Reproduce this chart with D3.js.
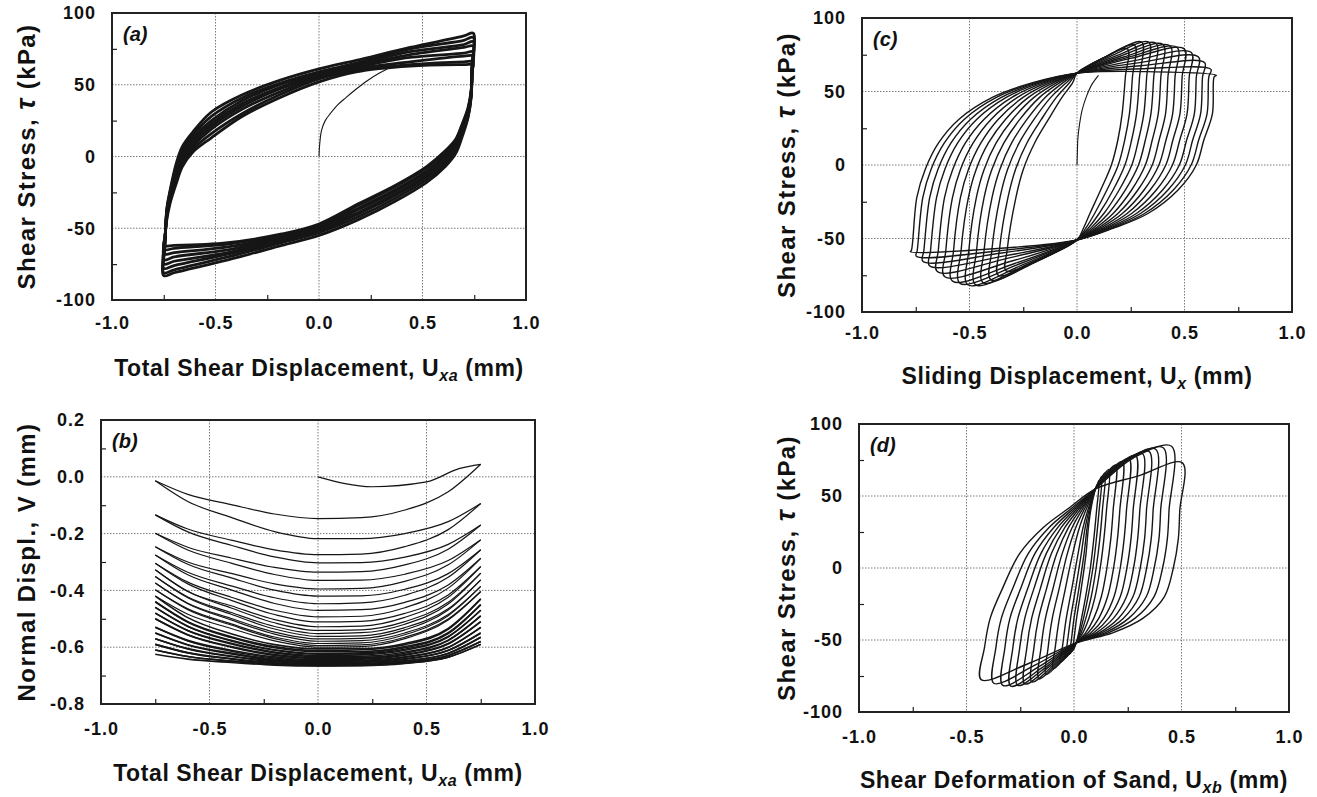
<!DOCTYPE html>
<html>
<head>
<meta charset="utf-8">
<script src="https://cdn.jsdelivr.net/npm/d3@7"></script>
<style>
  html, body { margin: 0; padding: 0; background: #fff; }
  svg { display: block; }
</style>
</head>
<body>
<svg id="chart" width="1317" height="797"></svg>
<script>
// ---------------------------------------------------------------------------
// Axis ticks (shared x axis for all four panels)
// ---------------------------------------------------------------------------
const X_DOMAIN = [-1, 1];
const X_TICKS  = [-1, -0.5, 0, 0.5, 1];
const X_MINOR  = [-0.75, -0.25, 0.25, 0.75];

const TAU_TICKS = [-100, -50, 0, 50, 100];
const TAU_MINOR = [-75, -25, 25, 75];
const V_TICKS   = [-0.8, -0.6, -0.4, -0.2, 0, 0.2];
const V_MINOR   = [-0.7, -0.5, -0.3, -0.1, 0.1];

// ---------------------------------------------------------------------------
// (a) total shear displacement vs shear stress
// ---------------------------------------------------------------------------
const A_INIT_X = [0, 0.003, 0.012, 0.03, 0.055, 0.09, 0.13, 0.18, 0.235, 0.29, 0.33];
const A_INIT_Y = [0, 8, 18, 25, 30, 36, 41, 47, 53, 58, 61];

// loading branch, read at these displacements
const A_UP_X = [-0.75, -0.745, -0.735, -0.72, -0.69, -0.66, -0.61, -0.52, -0.37, -0.19, 0.0, 0.18, 0.44, 0.70, 0.745];
const A_UP = [
    [-62, -57, -44, -33, -19, -7, 3, 13, 28, 41, 52, 59, 63, 64, 64],
    [-65, -58, -42, -31, -17, -5, 5, 16, 30, 43, 54, 60, 64, 66, 66],
    [-68, -59, -41, -29, -15, -3, 7, 19, 33, 45, 55, 61, 66, 70, 70],
    [-72, -60, -40, -28, -13, -1, 9, 21, 35, 47, 56, 62, 69, 72, 73],
    [-75, -61, -39, -27, -11, 1, 11, 23, 37, 48, 57, 63, 71, 76, 77],
    [-78, -62, -38, -26, -9, 3, 13, 25, 39, 50, 58, 64, 73, 78, 80],
    [-81, -63, -37, -25, -7, 5, 15, 28, 41, 51, 59, 65, 75, 81, 83],
    [-83, -64, -36, -24, -5, 7, 17, 31, 43, 53, 61, 67, 76, 84, 86]
];

// unloading branch, read at these displacements
const A_DN_X = [0.74, 0.735, 0.72, 0.69, 0.66, 0.61, 0.52, 0.37, 0.19, 0.0, -0.18, -0.44, -0.70];
const A_DN = [
    [60, 46, 34, 22, 12, 4, -7, -20, -33, -47, -54, -60, -62],
    [61, 45, 33, 21, 11, 3, -8, -21, -34, -48, -55, -61, -64],
    [62, 45, 32, 20, 10, 1, -10, -23, -36, -49, -56, -63, -67],
    [62, 44, 31, 19, 9, 0, -11, -24, -37, -50, -57, -65, -70],
    [63, 44, 30, 17, 7, -2, -13, -26, -39, -51, -58, -67, -73],
    [63, 43, 29, 16, 6, -3, -14, -27, -40, -52, -59, -68, -76],
    [64, 42, 28, 15, 4, -5, -16, -29, -42, -53, -60, -70, -79],
    [64, 41, 27, 13, 2, -7, -18, -31, -44, -55, -62, -72, -81]
];

// ---------------------------------------------------------------------------
// (b) normal displacement, one row per half cycle
// ---------------------------------------------------------------------------
const B_INIT_X = [0, 0.25, 0.5, 0.65, 0.75];
const B_INIT_V = [0, -0.035, -0.018, 0.029, 0.044];

const B_X = [-0.75, -0.6, -0.4, -0.2, 0, 0.2, 0.4, 0.6, 0.75];
const B_V = [
    [-0.014, -0.062, -0.098, -0.131, -0.147, -0.144, -0.117, -0.053, 0.044],
    [-0.014, -0.087, -0.143, -0.193, -0.218, -0.218, -0.2, -0.158, -0.094],
    [-0.134, -0.184, -0.223, -0.257, -0.274, -0.272, -0.246, -0.186, -0.094],
    [-0.134, -0.194, -0.241, -0.282, -0.303, -0.302, -0.283, -0.238, -0.17],
    [-0.199, -0.248, -0.286, -0.319, -0.336, -0.334, -0.31, -0.255, -0.17],
    [-0.199, -0.258, -0.304, -0.344, -0.365, -0.364, -0.343, -0.295, -0.222],
    [-0.246, -0.3, -0.34, -0.377, -0.395, -0.393, -0.368, -0.31, -0.222],
    [-0.246, -0.308, -0.356, -0.399, -0.42, -0.419, -0.396, -0.341, -0.257],
    [-0.275, -0.336, -0.384, -0.426, -0.447, -0.444, -0.417, -0.354, -0.257],
    [-0.275, -0.345, -0.398, -0.446, -0.47, -0.468, -0.442, -0.381, -0.287],
    [-0.304, -0.371, -0.424, -0.47, -0.493, -0.491, -0.461, -0.392, -0.287],
    [-0.304, -0.377, -0.435, -0.485, -0.511, -0.509, -0.481, -0.416, -0.316],
    [-0.327, -0.404, -0.454, -0.503, -0.528, -0.526, -0.495, -0.424, -0.316],
    [-0.327, -0.403, -0.462, -0.514, -0.541, -0.539, -0.51, -0.442, -0.339],
    [-0.351, -0.423, -0.478, -0.527, -0.552, -0.549, -0.519, -0.448, -0.339],
    [-0.351, -0.426, -0.484, -0.536, -0.562, -0.56, -0.531, -0.465, -0.363],
    [-0.374, -0.445, -0.499, -0.547, -0.571, -0.569, -0.539, -0.469, -0.363],
    [-0.374, -0.447, -0.504, -0.554, -0.579, -0.577, -0.55, -0.485, -0.386],
    [-0.398, -0.465, -0.518, -0.564, -0.587, -0.585, -0.556, -0.489, -0.386],
    [-0.398, -0.468, -0.522, -0.57, -0.594, -0.592, -0.565, -0.501, -0.404],
    [-0.42, -0.484, -0.534, -0.578, -0.6, -0.598, -0.57, -0.504, -0.404],
    [-0.42, -0.496, -0.553, -0.591, -0.606, -0.605, -0.587, -0.534, -0.43],
    [-0.44, -0.51, -0.563, -0.598, -0.612, -0.609, -0.591, -0.537, -0.43],
    [-0.44, -0.512, -0.566, -0.602, -0.616, -0.615, -0.598, -0.549, -0.45],
    [-0.46, -0.526, -0.576, -0.609, -0.622, -0.62, -0.602, -0.552, -0.45],
    [-0.46, -0.527, -0.578, -0.611, -0.625, -0.623, -0.607, -0.562, -0.47],
    [-0.48, -0.541, -0.586, -0.617, -0.629, -0.627, -0.611, -0.564, -0.47],
    [-0.48, -0.542, -0.589, -0.62, -0.633, -0.632, -0.617, -0.575, -0.49],
    [-0.5, -0.556, -0.598, -0.626, -0.637, -0.636, -0.621, -0.577, -0.49],
    [-0.5, -0.557, -0.6, -0.629, -0.64, -0.639, -0.626, -0.587, -0.51],
    [-0.53, -0.576, -0.611, -0.634, -0.644, -0.642, -0.628, -0.589, -0.51],
    [-0.53, -0.578, -0.614, -0.638, -0.648, -0.646, -0.634, -0.6, -0.53],
    [-0.55, -0.591, -0.621, -0.642, -0.65, -0.648, -0.636, -0.601, -0.53],
    [-0.55, -0.592, -0.624, -0.645, -0.653, -0.652, -0.641, -0.611, -0.55],
    [-0.57, -0.605, -0.631, -0.648, -0.655, -0.654, -0.643, -0.612, -0.55],
    [-0.57, -0.606, -0.633, -0.651, -0.658, -0.657, -0.648, -0.622, -0.565],
    [-0.59, -0.619, -0.64, -0.655, -0.66, -0.659, -0.649, -0.621, -0.565],
    [-0.59, -0.62, -0.642, -0.657, -0.662, -0.661, -0.653, -0.629, -0.58],
    [-0.61, -0.633, -0.649, -0.66, -0.664, -0.662, -0.654, -0.629, -0.58],
    [-0.61, -0.633, -0.649, -0.66, -0.665, -0.664, -0.656, -0.635, -0.59],
    [-0.625, -0.642, -0.654, -0.663, -0.666, -0.665, -0.657, -0.635, -0.59]
];

// ---------------------------------------------------------------------------
// (c) sliding displacement, one row per cycle (inner to outer)
// ---------------------------------------------------------------------------
const C_INIT_X = [0, 0.002, 0.004, 0.012, 0.025, 0.045, 0.07, 0.1];
const C_INIT_Y = [0, 10, 18, 28, 38, 47, 55, 61];

const C_TOP_CROSS = [0.0, 62.5];
const C_BOT_CROSS = [0.0, -51];

const C_LEFT_TAU = [-58, -22, -3, 15, 31, 46, 56];
const C_LEFT_X = [
    [-0.325, -0.284, -0.25, -0.197, -0.133, -0.07, -0.02],
    [-0.361, -0.321, -0.286, -0.233, -0.166, -0.096, -0.035],
    [-0.396, -0.358, -0.323, -0.269, -0.2, -0.122, -0.05],
    [-0.432, -0.395, -0.359, -0.304, -0.233, -0.148, -0.065],
    [-0.467, -0.432, -0.396, -0.34, -0.266, -0.174, -0.08],
    [-0.503, -0.468, -0.432, -0.376, -0.3, -0.2, -0.094],
    [-0.539, -0.505, -0.469, -0.412, -0.333, -0.226, -0.109],
    [-0.574, -0.542, -0.505, -0.447, -0.367, -0.251, -0.124],
    [-0.61, -0.579, -0.542, -0.483, -0.4, -0.277, -0.139],
    [-0.645, -0.616, -0.578, -0.519, -0.433, -0.303, -0.154],
    [-0.681, -0.653, -0.615, -0.555, -0.467, -0.329, -0.169],
    [-0.712, -0.685, -0.647, -0.586, -0.496, -0.352, -0.182],
    [-0.743, -0.717, -0.679, -0.617, -0.525, -0.375, -0.195],
    [-0.77, -0.745, -0.706, -0.644, -0.55, -0.394, -0.206]
];
const C_TROUGHS = [
    [-0.33, -72], [-0.366, -75], [-0.401, -78], [-0.437, -80], [-0.472, -81.5],
    [-0.508, -81.5], [-0.544, -80.5], [-0.579, -79], [-0.615, -76], [-0.65, -72.5],
    [-0.686, -68.5], [-0.717, -65.5], [-0.748, -62], [-0.775, -59]
];
const C_BOT_MID = [
    [-0.165, -63.5], [-0.183, -65], [-0.2, -66.5], [-0.218, -67.5], [-0.236, -68],
    [-0.254, -68], [-0.272, -67.5], [-0.29, -67], [-0.307, -65.5], [-0.325, -63.5],
    [-0.343, -62], [-0.358, -60], [-0.374, -58.5], [-0.388, -57]
];

const C_RIGHT_TAU = [60, 35, 17, 0, -17, -33, -43];
const C_RIGHT_X = [
    [0.225, 0.21, 0.19, 0.16, 0.11, 0.06, 0.03],
    [0.258, 0.244, 0.222, 0.192, 0.139, 0.082, 0.041],
    [0.291, 0.277, 0.254, 0.223, 0.168, 0.103, 0.052],
    [0.324, 0.311, 0.286, 0.255, 0.196, 0.125, 0.064],
    [0.357, 0.344, 0.318, 0.286, 0.225, 0.146, 0.075],
    [0.39, 0.378, 0.35, 0.318, 0.254, 0.168, 0.086],
    [0.423, 0.412, 0.382, 0.35, 0.283, 0.19, 0.097],
    [0.456, 0.445, 0.414, 0.381, 0.312, 0.211, 0.108],
    [0.489, 0.479, 0.446, 0.413, 0.34, 0.233, 0.12],
    [0.522, 0.512, 0.478, 0.444, 0.369, 0.254, 0.131],
    [0.555, 0.546, 0.51, 0.476, 0.398, 0.276, 0.142],
    [0.584, 0.575, 0.538, 0.504, 0.423, 0.295, 0.152],
    [0.613, 0.605, 0.566, 0.531, 0.448, 0.314, 0.162],
    [0.638, 0.63, 0.59, 0.555, 0.47, 0.33, 0.17]
];
const C_PEAKS = [
    [0.235, 79], [0.268, 81.5], [0.301, 83.5], [0.334, 83.5], [0.367, 82.8],
    [0.4, 82], [0.433, 81], [0.466, 80], [0.499, 79], [0.532, 76.5],
    [0.565, 73.5], [0.594, 69.5], [0.623, 65], [0.648, 61]
];
const C_TOP_MID = [
    [0.118, 72.5], [0.134, 73.8], [0.15, 74.8], [0.167, 74.8], [0.184, 74.4],
    [0.2, 74], [0.217, 73.5], [0.233, 73], [0.25, 72.5], [0.266, 71],
    [0.283, 69.5], [0.297, 67.5], [0.312, 65.5], [0.324, 63.5]
];

// ---------------------------------------------------------------------------
// (d) shear deformation of sand, one row per cycle (inner to outer)
// ---------------------------------------------------------------------------
const D_TOP_CROSS = [0.10, 55];
const D_BOT_CROSS = [0.01, -52];

const D_LEFT_TAU = [-55, -35, -15, 10, 28, 42];
const D_LEFT_X = [
    [-0.005, 0.012, 0.033, 0.056, 0.067, 0.08],
    [-0.017, 0.0, 0.022, 0.047, 0.061, 0.077],
    [-0.034, -0.016, 0.007, 0.034, 0.052, 0.073],
    [-0.054, -0.036, -0.011, 0.019, 0.042, 0.068],
    [-0.087, -0.068, -0.041, -0.006, 0.025, 0.06],
    [-0.12, -0.101, -0.07, -0.031, 0.008, 0.052],
    [-0.153, -0.133, -0.099, -0.055, -0.009, 0.044],
    [-0.186, -0.165, -0.129, -0.08, -0.026, 0.036],
    [-0.219, -0.197, -0.158, -0.105, -0.043, 0.028],
    [-0.252, -0.229, -0.188, -0.129, -0.06, 0.02],
    [-0.284, -0.261, -0.217, -0.154, -0.076, 0.012],
    [-0.321, -0.298, -0.25, -0.182, -0.095, 0.003],
    [-0.363, -0.338, -0.287, -0.213, -0.117, -0.007],
    [-0.416, -0.39, -0.335, -0.253, -0.144, -0.02]
];
const D_TROUGHS = [
    [-0.01, -58], [-0.025, -60], [-0.043, -62.5], [-0.064, -65.5], [-0.097, -70],
    [-0.13, -74], [-0.163, -77], [-0.196, -79], [-0.229, -80.5], [-0.262, -81.5],
    [-0.294, -82], [-0.331, -81.5], [-0.373, -80], [-0.432, -77.5]
];
const D_BOT_MID = [
    [0.0, -56], [-0.008, -57.5], [-0.017, -58.8], [-0.027, -60.3], [-0.044, -62.5],
    [-0.06, -64.5], [-0.077, -66], [-0.093, -67], [-0.11, -67.8], [-0.126, -68.3],
    [-0.142, -68.5], [-0.161, -68.3], [-0.182, -67.5], [-0.211, -66.3]
];

const D_RIGHT_TAU = [40, 20, 0, -20, -35, -45];
const D_RIGHT_X = [
    [0.105, 0.092, 0.076, 0.054, 0.035, 0.022],
    [0.117, 0.104, 0.088, 0.065, 0.044, 0.027],
    [0.132, 0.12, 0.103, 0.08, 0.055, 0.033],
    [0.151, 0.139, 0.122, 0.098, 0.069, 0.041],
    [0.182, 0.171, 0.153, 0.127, 0.092, 0.054],
    [0.213, 0.202, 0.184, 0.156, 0.115, 0.066],
    [0.244, 0.233, 0.215, 0.186, 0.138, 0.079],
    [0.275, 0.265, 0.246, 0.215, 0.16, 0.092],
    [0.306, 0.296, 0.277, 0.244, 0.183, 0.104],
    [0.337, 0.328, 0.308, 0.274, 0.206, 0.117],
    [0.368, 0.359, 0.338, 0.303, 0.229, 0.129],
    [0.403, 0.395, 0.373, 0.336, 0.254, 0.144],
    [0.442, 0.434, 0.412, 0.372, 0.283, 0.159],
    [0.492, 0.485, 0.462, 0.42, 0.32, 0.18]
];
const D_PEAKS = [
    [0.117, 61], [0.129, 63.5], [0.144, 66], [0.163, 68.5], [0.194, 71.5],
    [0.225, 74], [0.256, 76], [0.287, 78], [0.318, 79.5], [0.349, 81],
    [0.38, 82.5], [0.415, 83.5], [0.454, 84.5], [0.504, 73]
];
const D_TOP_MID = [
    [0.108, 58], [0.114, 59.5], [0.122, 61], [0.131, 63], [0.147, 65],
    [0.162, 67], [0.178, 68.5], [0.193, 70], [0.209, 71.5], [0.224, 73],
    [0.24, 74.5], [0.258, 75.5], [0.277, 76.5], [0.3, 64]
];

// ---------------------------------------------------------------------------
// Drawing
// ---------------------------------------------------------------------------
const FONT = "'Liberation Sans', Arial, Helvetica, sans-serif";
const INK  = "#161616";
const GRID = "#7a7a7a";

const svg = d3.select("#chart")
    .attr("font-family", FONT);

const defs = svg.append("defs");

const openLine   = d3.line().curve(d3.curveCatmullRom.alpha(0.5));
const closedLine = d3.line().curve(d3.curveCatmullRomClosed.alpha(0.5));

/**
 * Returns the point list of one closed loop of panel (c) or (d).
 */
function cycleLoop(set, i)
{
    let pts = [set.troughs[i]];

    set.leftTau.forEach((t, j) => pts.push([set.leftX[i][j], t]));
    pts.push(set.topCross, set.topMid[i], set.peaks[i]);
    set.rightTau.forEach((t, j) => pts.push([set.rightX[i][j], t]));
    pts.push(set.botCross, set.botMid[i]);

    return pts;
}

/**
 * Draws one framed panel with grid, ticks, labels and its curves.
 */
function drawPanel(cfg)
{
    const x = d3.scaleLinear().domain(X_DOMAIN).range([cfg.left, cfg.right]);
    const y = d3.scaleLinear().domain(cfg.yDomain).range([cfg.bottom, cfg.top]);
    const g = svg.append("g").attr("class", "panel-" + cfg.name);

    // Dotted grid on the inner major ticks
    g.append("g")
        .selectAll("line")
        .data(X_TICKS.slice(1, -1))
        .join("line")
        .attr("x1", d => x(d)).attr("x2", d => x(d))
        .attr("y1", cfg.top).attr("y2", cfg.bottom)
        .attr("stroke", GRID).attr("stroke-width", 1).attr("stroke-dasharray", "1.5,1.5");

    g.append("g")
        .selectAll("line")
        .data(cfg.yTicks.slice(1, -1))
        .join("line")
        .attr("y1", d => y(d)).attr("y2", d => y(d))
        .attr("x1", cfg.left).attr("x2", cfg.right)
        .attr("stroke", GRID).attr("stroke-width", 1).attr("stroke-dasharray", "1.5,1.5");

    // Curves, clipped to the frame
    defs.append("clipPath")
        .attr("id", "clip-" + cfg.name)
        .append("rect")
        .attr("x", cfg.left).attr("y", cfg.top)
        .attr("width", cfg.right - cfg.left).attr("height", cfg.bottom - cfg.top);

    const plot = g.append("g")
        .attr("clip-path", "url(#clip-" + cfg.name + ")")
        .attr("fill", "none")
        .attr("stroke", INK)
        .attr("stroke-linejoin", "round");

    cfg.draw(plot, x, y);

    // Frame
    g.append("rect")
        .attr("x", cfg.left).attr("y", cfg.top)
        .attr("width", cfg.right - cfg.left).attr("height", cfg.bottom - cfg.top)
        .attr("fill", "none").attr("stroke", "#222").attr("stroke-width", 2);

    // Minor ticks, pointing inward
    g.append("g")
        .attr("transform", "translate(0," + cfg.bottom + ")")
        .call(d3.axisBottom(x).tickValues(X_MINOR).tickSize(-5).tickFormat(""))
        .call(a => a.select(".domain").remove())
        .call(a => a.selectAll("line").attr("stroke", "#222").attr("stroke-width", 1.2));

    g.append("g")
        .attr("transform", "translate(" + cfg.left + ",0)")
        .call(d3.axisLeft(y).tickValues(cfg.yMinor).tickSize(-5).tickFormat(""))
        .call(a => a.select(".domain").remove())
        .call(a => a.selectAll("line").attr("stroke", "#222").attr("stroke-width", 1.2));

    // Tick labels
    g.append("g")
        .attr("transform", "translate(0," + cfg.bottom + ")")
        .call(d3.axisBottom(x).tickValues(X_TICKS).tickSize(0).tickPadding(cfg.xPad)
            .tickFormat(d => d.toFixed(1)))
        .call(a => a.select(".domain").remove())
        .attr("font-family", FONT).attr("font-size", 18).attr("font-weight", "bold")
        .call(a => a.selectAll("text").attr("fill", "#111").attr("letter-spacing", 1));

    g.append("g")
        .attr("transform", "translate(" + cfg.left + ",0)")
        .call(d3.axisLeft(y).tickValues(cfg.yTicks).tickSize(0).tickPadding(16)
            .tickFormat(cfg.yFormat))
        .call(a => a.select(".domain").remove())
        .attr("font-family", FONT).attr("font-size", 18).attr("font-weight", "bold")
        .call(a => a.selectAll("text").attr("fill", "#111").attr("letter-spacing", 1));

    // Panel letter
    g.append("text")
        .attr("x", cfg.left + 11).attr("y", cfg.top + 28)
        .attr("font-size", 20).attr("font-weight", "bold").attr("font-style", "italic")
        .attr("fill", "#111")
        .text("(" + cfg.name + ")");

    // X axis title
    const xt = g.append("text")
        .attr("x", (cfg.left + cfg.right) / 2).attr("y", cfg.bottom + cfg.titlePad)
        .attr("text-anchor", "middle")
        .attr("font-size", 23).attr("font-weight", "bold").attr("fill", "#111")
        .attr("letter-spacing", 0.6);

    xt.append("tspan").text(cfg.xTitle[0]);
    xt.append("tspan").attr("font-size", 16).attr("font-style", "italic").attr("dy", 5).text(cfg.xTitle[1]);
    xt.append("tspan").attr("dy", -5).text(cfg.xTitle[2]);

    // Y axis title
    const yt = g.append("text")
        .attr("transform", "translate(" + cfg.yTitleX + "," + ((cfg.top + cfg.bottom) / 2) + ") rotate(-90)")
        .attr("text-anchor", "middle")
        .attr("font-size", 24).attr("font-weight", "bold").attr("fill", "#111")
        .attr("letter-spacing", 1.4);

    cfg.yTitle.forEach((part, i) => {
        let span = yt.append("tspan").text(part);

        if (i === 1) {
            span.attr("font-style", "italic").attr("font-size", 27);
        }
    });
}

const tauFormat = d => String(d);
const vFormat   = d => d.toFixed(1);

// (a)
drawPanel({
    name: "a", left: 112, right: 526, top: 13, bottom: 300,
    yDomain: [-100, 100], yTicks: TAU_TICKS, yMinor: TAU_MINOR, yFormat: tauFormat,
    xPad: 16, titlePad: 76, yTitleX: 35,
    xTitle: ["Total Shear Displacement, U", "xa", " (mm)"],
    yTitle: ["Shear Stress, ", "\u03C4", " (kPa)"],
    draw: (plot, x, y) => {
        openLine.x(d => x(d[0])).y(d => y(d[1]));
        closedLine.x(d => x(d[0])).y(d => y(d[1]));

        plot.selectAll("path.loop")
            .data(A_UP.map((up, i) =>
                A_UP_X.map((u, j) => [u, up[j]])
                    .concat(A_DN_X.map((u, j) => [u, A_DN[i][j]]))))
            .join("path")
            .attr("class", "loop")
            .attr("stroke-width", 2.8)
            .attr("d", closedLine);

        plot.append("path")
            .attr("stroke-width", 1.1)
            .attr("d", openLine(A_INIT_X.map((u, j) => [u, A_INIT_Y[j]])));
    }
});

// (b)
drawPanel({
    name: "b", left: 101, right: 535, top: 420, bottom: 704,
    yDomain: [-0.8, 0.2], yTicks: V_TICKS, yMinor: V_MINOR, yFormat: vFormat,
    xPad: 18, titlePad: 77, yTitleX: 35,
    xTitle: ["Total Shear Displacement, U", "xa", " (mm)"],
    yTitle: ["Normal Displ., V (mm)"],
    draw: (plot, x, y) => {
        const line = d3.line().curve(d3.curveMonotoneX).x(d => x(d[0])).y(d => y(d[1]));

        plot.selectAll("path.half")
            .data(B_V.map(row => B_X.map((u, j) => [u, row[j]])))
            .join("path")
            .attr("class", "half")
            .attr("stroke-width", (d, i) => i > 20 ? 1.6 : 1.2)
            .attr("d", line);

        plot.append("path")
            .attr("stroke-width", 1.2)
            .attr("d", line(B_INIT_X.map((u, j) => [u, B_INIT_V[j]])));
    }
});

// (c)
const C_SET = {
    leftTau: C_LEFT_TAU, leftX: C_LEFT_X, troughs: C_TROUGHS, botMid: C_BOT_MID,
    rightTau: C_RIGHT_TAU, rightX: C_RIGHT_X, peaks: C_PEAKS, topMid: C_TOP_MID,
    topCross: C_TOP_CROSS, botCross: C_BOT_CROSS
};

drawPanel({
    name: "c", left: 862, right: 1292, top: 18, bottom: 312,
    yDomain: [-100, 100], yTicks: TAU_TICKS, yMinor: TAU_MINOR, yFormat: tauFormat,
    xPad: 14, titlePad: 72, yTitleX: 795,
    xTitle: ["Sliding Displacement, U", "x", " (mm)"],
    yTitle: ["Shear Stress, ", "\u03C4", " (kPa)"],
    draw: (plot, x, y) => {
        closedLine.x(d => x(d[0])).y(d => y(d[1]));
        openLine.x(d => x(d[0])).y(d => y(d[1]));

        plot.selectAll("path.loop")
            .data(C_LEFT_X.map((row, i) => cycleLoop(C_SET, i)))
            .join("path")
            .attr("class", "loop")
            .attr("stroke-width", 1.4)
            .attr("d", closedLine);

        plot.append("path")
            .attr("stroke-width", 1.1)
            .attr("d", openLine(C_INIT_X.map((u, j) => [u, C_INIT_Y[j]])));
    }
});

// (d)
const D_SET = {
    leftTau: D_LEFT_TAU, leftX: D_LEFT_X, troughs: D_TROUGHS, botMid: D_BOT_MID,
    rightTau: D_RIGHT_TAU, rightX: D_RIGHT_X, peaks: D_PEAKS, topMid: D_TOP_MID,
    topCross: D_TOP_CROSS, botCross: D_BOT_CROSS
};

drawPanel({
    name: "d", left: 859, right: 1289, top: 424, bottom: 712,
    yDomain: [-100, 100], yTicks: TAU_TICKS, yMinor: TAU_MINOR, yFormat: tauFormat,
    xPad: 18, titlePad: 76, yTitleX: 795,
    xTitle: ["Shear Deformation of Sand, U", "xb", " (mm)"],
    yTitle: ["Shear Stress, ", "\u03C4", " (kPa)"],
    draw: (plot, x, y) => {
        closedLine.x(d => x(d[0])).y(d => y(d[1]));

        plot.selectAll("path.loop")
            .data(D_LEFT_X.map((row, i) => cycleLoop(D_SET, i)))
            .join("path")
            .attr("class", "loop")
            .attr("stroke-width", 1.4)
            .attr("d", closedLine);
    }
});
</script>
</body>
</html>
